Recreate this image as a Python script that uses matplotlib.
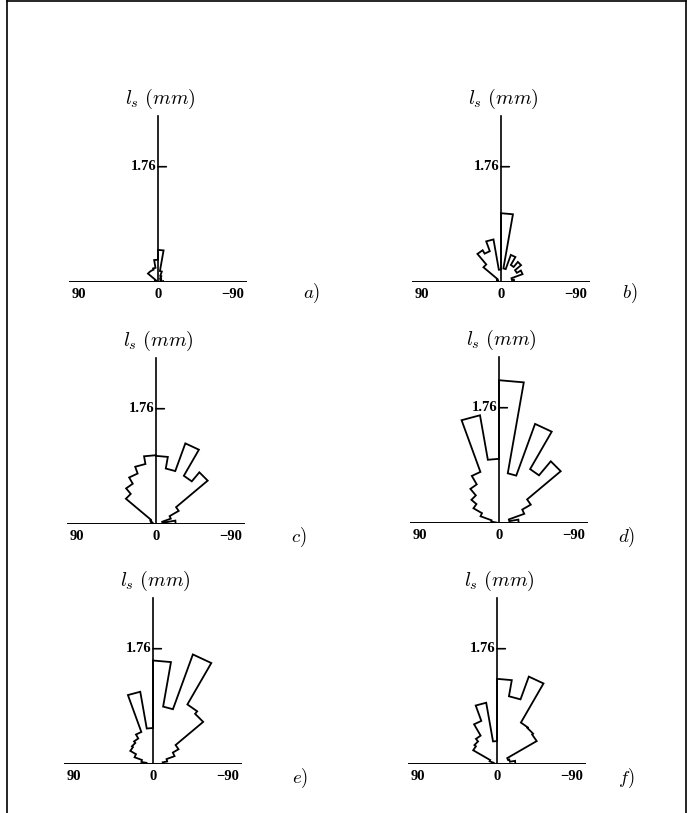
import numpy as np
import matplotlib.pyplot as plt
from matplotlib.lines import Line2D

plt.rcParams['mathtext.fontset'] = 'cm'

# 10 degree orientation bins, from 90 (left) to -90 (right)
edges = np.arange(90, -91, -10)

# segment length per bin (mm), ordered left to right
len_a = [0.02, 0.02, 0.03, 0.05, 0.20, 0.20, 0.20, 0.22, 0.34,
         0.49, 0.17, 0.10, 0.07, 0.06, 0.05, 0.05, 0.04, 0.08]
len_b = [0.04, 0.05, 0.06, 0.07, 0.35, 0.56, 0.50, 0.66, 0.19,
         1.05, 0.21, 0.44, 0.30, 0.40, 0.28, 0.35, 0.17, 0.20]
len_c = [0.05, 0.06, 0.08, 0.10, 0.60, 0.71, 0.82, 0.93, 1.05,
         1.04, 0.86, 1.31, 0.85, 1.03, 0.40, 0.24, 0.10, 0.30]
len_d = [0.04, 0.12, 0.30, 0.45, 0.55, 0.68, 0.83, 1.67, 0.98,
         2.18, 0.77, 1.61, 0.95, 1.23, 0.56, 0.41, 0.16, 0.30]
len_e = [0.10, 0.18, 0.30, 0.40, 0.42, 0.45, 0.52, 1.12, 0.55,
         1.58, 0.89, 1.78, 1.05, 1.00, 0.45, 0.35, 0.22, 0.15]
len_f = [0.04, 0.06, 0.12, 0.42, 0.45, 0.50, 0.70, 0.95, 0.35,
         1.30, 1.05, 1.42, 0.73, 0.72, 0.70, 0.18, 0.20, 0.28]

panel_data = [len_a, len_b, len_c, len_d, len_e, len_f]
panel_tags = ['a', 'b', 'c', 'd', 'e', 'f']

tick_value = 1.76
axis_top = 2.54
base_half = 1.34
r_max = 2.7

W, H = 689, 813
px_per_unit = 65.5
# origin of each rose and position of its letter, in pixels from top-left
origins = [(158, 282), (501, 282), (156, 524), (499, 523), (153, 764), (497, 764)]
tag_pos = [(312, 293), (630, 293), (299, 537), (627, 537), (300, 778), (626, 778)]

fig = plt.figure(figsize=(W / 100, H / 100), dpi=100)

num_font = dict(family='Liberation Serif', fontweight='bold', fontsize=10.5)

side = 2 * r_max * px_per_unit
for lengths, tag, (ox, oy), (tx, ty) in zip(panel_data, panel_tags, origins, tag_pos):
    left = (ox - side / 2) / W
    bottom = (H - oy - side / 4) / H
    ax = fig.add_axes([left, bottom, side / W, side / H], projection='polar')
    ax.set_theta_zero_location('N')
    ax.set_theta_direction(1)
    ax.set_thetamin(-90)
    ax.set_thetamax(90)
    ax.set_rlim(0, r_max)
    ax.set_axis_off()

    # rose outline: each bin is a flat-topped wedge
    theta = np.radians(edges)
    r = np.asarray(lengths)
    th = np.column_stack([theta[:-1], theta[1:]]).ravel()
    rr = np.repeat(r, 2)
    th = np.concatenate([[theta[0]], th, [theta[-1]]])
    rr = np.concatenate([[0], rr, [0]])
    ax.plot(th, rr, color='k', lw=1.3, solid_joinstyle='miter')

    # axes
    ax.plot([0, 0], [0, axis_top], color='k', lw=1.2)
    ax.plot([np.pi / 2, np.pi / 2, -np.pi / 2], [base_half, 0, base_half],
            color='k', lw=1.4)
    ax.annotate('', xy=(0, tick_value), xytext=(6, 0), textcoords='offset points',
                arrowprops=dict(arrowstyle='-', lw=1.2, color='k', shrinkA=0, shrinkB=0))
    ax.annotate('1.76', xy=(0, tick_value), xytext=(-1, 0), textcoords='offset points',
                ha='right', va='center', **num_font)
    ax.annotate('90', xy=(np.pi / 2, base_half), xytext=(1, -4), textcoords='offset points',
                ha='left', va='top', **num_font)
    ax.annotate('0', xy=(0, 0), xytext=(0, -4), textcoords='offset points',
                ha='center', va='top', **num_font)
    ax.annotate('\u221290', xy=(-np.pi / 2, base_half), xytext=(-1, -4),
                textcoords='offset points', ha='right', va='top', **num_font)
    ax.annotate(r'$l_s\ (mm)$', xy=(0, axis_top), xytext=(2, 3), textcoords='offset points',
                ha='center', va='bottom', fontsize=14.5)

    fig.text(tx / W, 1 - ty / H, r'$%s)$' % tag, ha='center', va='center', fontsize=13.5)

# page frame
lw = 1.2
fig.add_artist(Line2D([7 / W, 7 / W], [0, 1 - 1.5 / H], transform=fig.transFigure, color='k', lw=lw))
fig.add_artist(Line2D([7 / W, 686 / W], [1 - 1.5 / H, 1 - 1.5 / H], transform=fig.transFigure, color='k', lw=lw))
fig.add_artist(Line2D([686 / W, 686 / W], [0, 1 - 1.5 / H], transform=fig.transFigure, color='k', lw=lw))

fig.savefig('out.png', dpi=100)
